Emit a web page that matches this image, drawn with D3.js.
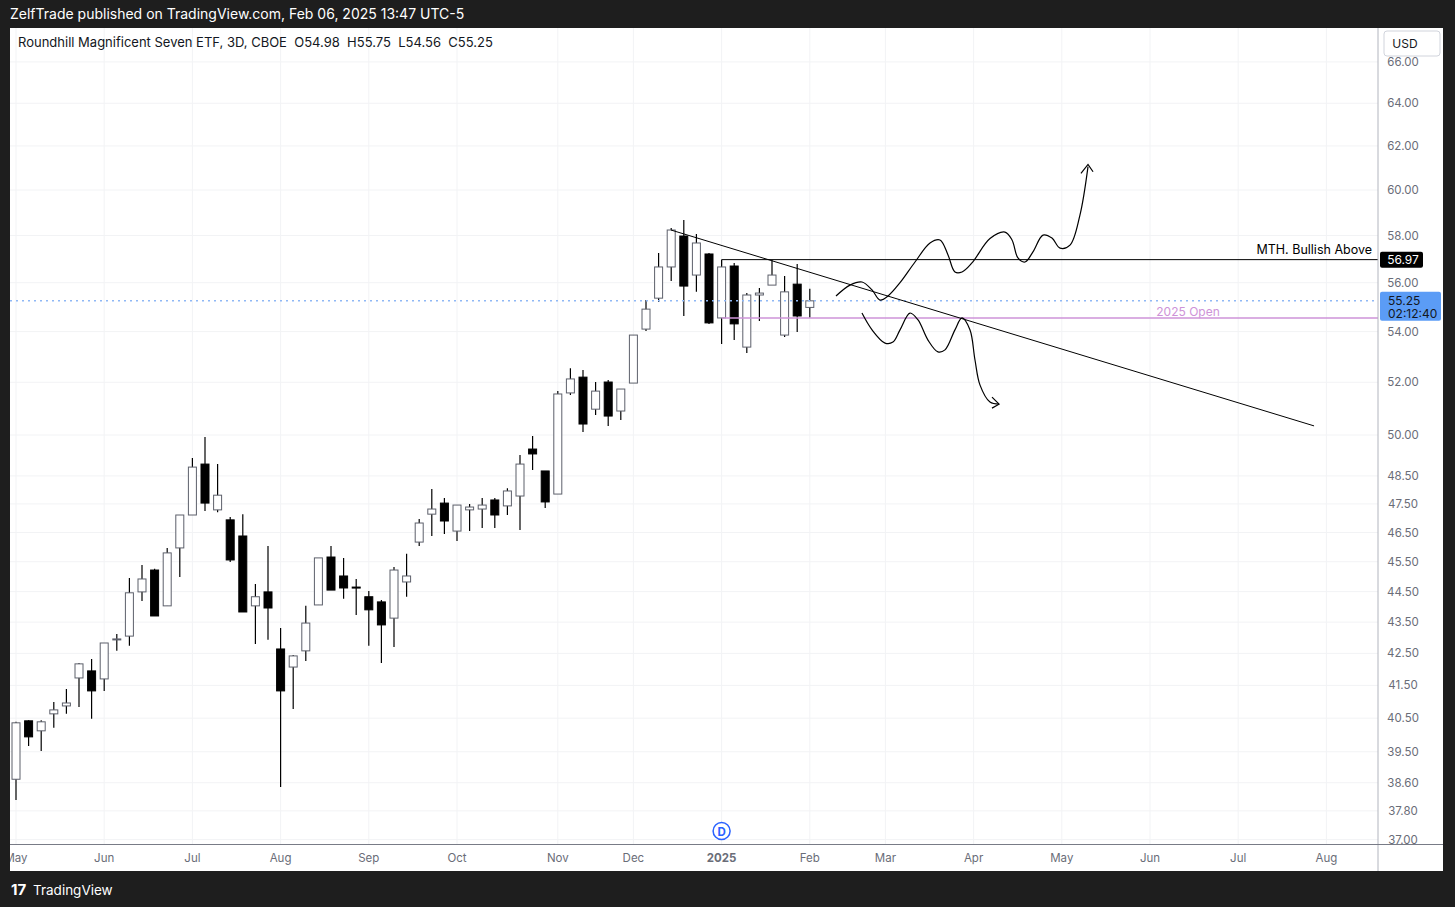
<!DOCTYPE html>
<html>
<head>
<meta charset="utf-8">
<script src="https://cdn.jsdelivr.net/npm/d3@7"></script>
<style>
  body { margin: 0; background: #1e1e1e; font-family: Inter, "Noto Sans", sans-serif; }
  svg text { font-family: Inter, "Noto Sans", sans-serif; white-space: pre; }
</style>
</head>
<body>
<svg width="1455" height="907"></svg>
<script>
// OHLC of each 3D bar, oldest first
var opens  = [38.70,40.42,40.12,40.63,40.87,41.73,41.95,41.70,42.93,43.05,44.49,45.22,44.03,45.97,47.11,48.93,47.29,46.94,46.38,44.03,44.49,42.64,42.07,42.58,44.06,45.66,45.02,44.65,44.33,44.16,43.63,44.82,46.17,47.14,47.53,46.55,47.29,47.32,47.64,47.43,47.78,49.48,48.68,47.85,51.59,52.20,50.97,52.01,50.90,51.97,54.10,55.36,56.66,57.98,56.32,57.21,54.55,56.70,53.38,55.49,55.90,53.86,55.94,54.98];
var highs  = [40.39,40.44,40.44,40.99,41.39,42.20,42.32,42.83,43.12,44.95,45.39,45.26,45.97,47.11,49.15,49.93,48.93,47.04,47.14,44.75,46.04,43.31,42.45,44.03,45.63,46.04,45.63,44.92,44.52,44.22,45.32,45.77,46.97,48.03,47.71,47.46,47.50,47.71,47.71,48.06,49.26,49.96,48.68,51.66,52.55,52.48,52.01,52.09,51.74,53.86,55.28,57.25,58.33,58.67,58.07,57.25,56.95,56.83,55.57,55.78,56.95,56.28,56.78,55.75];
var lows   = [38.11,39.67,39.52,40.21,40.63,40.84,40.48,41.33,42.58,42.74,44.19,43.70,44.03,44.99,47.11,47.25,47.21,45.49,43.83,42.80,42.93,38.48,40.78,42.26,44.06,44.55,44.26,43.73,42.74,42.20,42.70,44.33,46.04,46.38,46.45,46.21,46.55,46.66,46.66,47.11,46.59,48.71,47.36,47.85,51.51,50.11,50.75,50.34,50.56,51.97,54.02,55.20,56.07,54.63,55.62,54.31,53.50,53.66,53.15,54.43,55.90,53.78,53.98,54.56];
var closes = [40.36,39.94,40.39,40.75,40.96,42.17,41.33,42.83,42.96,44.46,44.92,43.70,45.80,47.11,48.82,47.53,47.81,45.56,43.83,44.33,43.96,41.33,42.42,43.47,45.63,44.55,44.62,44.62,43.90,43.41,45.22,45.02,46.83,47.32,46.90,47.46,47.39,47.46,47.11,47.96,48.93,49.30,47.57,51.55,52.13,50.41,51.66,50.71,51.74,53.86,54.91,56.66,58.24,55.86,57.68,54.35,56.66,54.31,55.49,55.57,56.32,55.62,54.63,55.25];

// price axis ticks
var priceTicks = [37.00,37.80,38.60,39.50,40.50,41.50,42.50,43.50,44.50,45.50,46.50,47.50,48.50,50.00,52.00,54.00,56.00,58.00,60.00,62.00,64.00,66.00];
// month labels and the bar index where each falls
var monthLabels = ["May","Jun","Jul","Aug","Sep","Oct","Nov","Dec","2025","Feb","Mar","Apr","May","Jun","Jul","Aug"];
var monthIdx    = [0,7,14,21,28,35,43,49,56,63,69,76,83,90,97,104];

// drawings: [bar index, price]
var trendLine   = [[51.98,58.24],[103.02,50.34]];
var bullLevel   = 56.97;
var openLevel   = 54.55;
var lastPrice   = 55.25;
var bullPath = [[65.08,55.45],[66.19,55.90],[67.14,56.03],[67.94,55.70],[68.57,55.28],[69.21,55.45],[70.16,56.00],[71.35,56.87],[72.54,57.68],[73.33,57.81],[73.97,57.17],[74.52,56.45],[75.08,56.45],[75.87,56.83],[77.30,57.87],[78.49,58.15],[79.05,57.81],[79.52,57.04],[80.08,56.87],[80.71,57.30],[81.51,58.02],[82.22,57.89],[82.86,57.46],[83.65,57.59],[84.44,58.89],[85.08,61.05]];
var bullHead = [[84.52,60.75],[85.08,61.15],[85.48,60.82]];
var bearPath = [[67.14,54.75],[67.94,54.07],[68.97,53.54],[69.60,53.58],[70.16,54.07],[70.95,54.75],[71.59,54.47],[72.38,53.66],[73.17,53.19],[73.73,53.27],[74.52,54.07],[75.08,54.55],[75.71,54.07],[76.11,52.87],[76.51,51.89],[77.30,51.24],[78.02,51.16]];
var bearHead = [[77.46,51.43],[78.02,51.16],[77.46,51.01]];

var svg = d3.select("svg");
var L = 10, R = 1378, T = 28, B = 844;

var x = d3.scaleLinear().domain([0, 1]).range([16, 28.6]);
var y = d3.scaleLog().domain([50, 60]).range([435, 190]);

// frame
svg.append("rect").attr("x", 10).attr("y", 28).attr("width", 1433).attr("height", 843).attr("fill", "#fff");
svg.append("text").attr("x", 10).attr("y", 19).attr("fill", "#fff").attr("font-size", 14)
  .text("ZelfTrade published on TradingView.com, Feb 06, 2025 13:47 UTC-5");

// grid
svg.selectAll(".hg").data(priceTicks).enter().append("line")
  .attr("x1", L).attr("x2", R).attr("y1", function(d){ return y(d); }).attr("y2", function(d){ return y(d); })
  .attr("stroke", "#f2f3f5");
svg.selectAll(".vg").data(monthIdx).enter().append("line")
  .attr("x1", function(d){ return x(d); }).attr("x2", function(d){ return x(d); }).attr("y1", T).attr("y2", B)
  .attr("stroke", "#f2f3f5");

var plot = svg.append("g");
svg.append("clipPath").attr("id", "clip").append("rect").attr("x", L).attr("y", T).attr("width", R - L).attr("height", B - T);
plot.attr("clip-path", "url(#clip)");

// candles
var bars = d3.range(closes.length);
plot.selectAll(".wick").data(bars).enter().append("line")
  .attr("x1", function(i){ return x(i); }).attr("x2", function(i){ return x(i); })
  .attr("y1", function(i){ return y(highs[i]); }).attr("y2", function(i){ return y(lows[i]); })
  .attr("stroke", "#000").attr("stroke-width", 1.2);
plot.selectAll(".body").data(bars).enter().append("rect")
  .attr("x", function(i){ return x(i) - 4; }).attr("width", 8)
  .attr("y", function(i){ return y(Math.max(opens[i], closes[i])); })
  .attr("height", function(i){ return Math.max(1, y(Math.min(opens[i], closes[i])) - y(Math.max(opens[i], closes[i]))); })
  .attr("fill", function(i){ return closes[i] >= opens[i] ? "#fff" : "#000"; })
  .attr("stroke", function(i){ return closes[i] >= opens[i] ? "#5d606b" : "#000"; })
  .attr("stroke-width", 1);

// levels
plot.append("line").attr("x1", L).attr("x2", R).attr("y1", y(lastPrice)).attr("y2", y(lastPrice))
  .attr("stroke", "#8fb8f5").attr("stroke-width", 1.5).attr("stroke-dasharray", "2,4");
plot.append("line").attr("x1", x(56)).attr("x2", R).attr("y1", y(openLevel)).attr("y2", y(openLevel))
  .attr("stroke", "#ce93d8").attr("stroke-width", 1.5);
plot.append("text").attr("x", 1188).attr("y", y(openLevel) - 2).attr("text-anchor", "middle")
  .attr("fill", "#ce93d8").attr("font-size", 12).text("2025 Open");
plot.append("line").attr("x1", x(56)).attr("x2", R).attr("y1", y(bullLevel)).attr("y2", y(bullLevel))
  .attr("stroke", "#000").attr("stroke-width", 1);
plot.append("line").attr("x1", x(56)).attr("x2", x(56)).attr("y1", y(bullLevel)).attr("y2", y(bullLevel) + 6)
  .attr("stroke", "#000").attr("stroke-width", 1);
plot.append("text").attr("x", 1372).attr("y", y(bullLevel) - 6).attr("text-anchor", "end")
  .attr("fill", "#000").attr("font-size", 12.5).text("MTH. Bullish Above");

var line = d3.line().x(function(d){ return x(d[0]); }).y(function(d){ return y(d[1]); });
var curve = d3.line().curve(d3.curveCatmullRom).x(function(d){ return x(d[0]); }).y(function(d){ return y(d[1]); });
plot.append("path").attr("d", line(trendLine)).attr("stroke", "#000").attr("fill", "none");
[bullPath, bearPath].forEach(function(p){
  plot.append("path").attr("d", curve(p)).attr("stroke", "#000").attr("fill", "none").attr("stroke-width", 1.2);
});
[bullHead, bearHead].forEach(function(p){
  plot.append("path").attr("d", line(p)).attr("stroke", "#000").attr("fill", "none").attr("stroke-width", 1.2);
});

// legend
svg.append("text").attr("x", 18).attr("y", 47).attr("fill", "#131722").attr("font-size", 13)
  .text("Roundhill Magnificent Seven ETF, 3D, CBOE  O54.98  H55.75  L54.56  C55.25");

// axes borders
svg.append("line").attr("x1", R).attr("x2", R).attr("y1", T).attr("y2", 871).attr("stroke", "#b2b5be");
svg.append("line").attr("x1", L).attr("x2", 1443).attr("y1", B + 0.5).attr("y2", B + 0.5).attr("stroke", "#787b86");

// price labels
svg.selectAll(".pt").data(priceTicks).enter().append("text")
  .attr("x", 1403).attr("y", function(d){ return y(d) + 4; }).attr("text-anchor", "middle")
  .attr("fill", "#6a6d78").attr("font-size", 11.5).text(function(d){ return d.toFixed(2); });
svg.append("rect").attr("x", 1379).attr("y", 28).attr("width", 64).attr("height", 29).attr("fill", "#fff");
svg.append("rect").attr("x", 1384).attr("y", 31).attr("width", 56).attr("height", 25).attr("rx", 3)
  .attr("fill", "#fff").attr("stroke", "#d1d4dc");
svg.append("text").attr("x", 1405).attr("y", 48).attr("text-anchor", "middle").attr("font-size", 12).attr("fill", "#131722").text("USD");

svg.append("rect").attr("x", 1380).attr("y", y(bullLevel) - 8).attr("width", 43).attr("height", 16).attr("rx", 2).attr("fill", "#000");
svg.append("text").attr("x", 1403).attr("y", y(bullLevel) + 4.5).attr("text-anchor", "middle").attr("fill", "#fff").attr("font-size", 12).text(bullLevel.toFixed(2));
svg.append("rect").attr("x", 1380).attr("y", y(lastPrice) - 9).attr("width", 61).attr("height", 29).attr("rx", 2).attr("fill", "#5b9cf6");
svg.append("text").attr("x", 1388).attr("y", y(lastPrice) + 4).attr("fill", "#131722").attr("font-size", 12).text(lastPrice.toFixed(2));
svg.append("text").attr("x", 1388).attr("y", y(lastPrice) + 17).attr("fill", "#131722").attr("font-size", 12).text("02:12:40");

// month labels
svg.selectAll(".mt").data(monthIdx).enter().append("text")
  .attr("x", function(d){ return x(d); }).attr("y", 862).attr("text-anchor", "middle")
  .attr("fill", "#6a6d78").attr("font-size", 11.5).attr("font-weight", function(d, i){ return monthLabels[i] === "2025" ? "bold" : "normal"; })
  .text(function(d, i){ return monthLabels[i]; });
svg.append("rect").attr("x", 0).attr("y", 845).attr("width", 10).attr("height", 30).attr("fill", "#1e1e1e");

// dividend marker
svg.append("circle").attr("cx", x(56)).attr("cy", 831).attr("r", 8.5).attr("fill", "#fff").attr("stroke", "#2962ff").attr("stroke-width", 1.5);
svg.append("text").attr("x", x(56)).attr("y", 835.5).attr("text-anchor", "middle").attr("fill", "#2962ff").attr("font-size", 11.5).attr("font-weight", "bold").text("D");

// footer
svg.append("text").attr("x", 11).attr("y", 895).attr("fill", "#fff").attr("font-size", 15).attr("font-weight", "bold").text("17");
svg.append("text").attr("x", 33).attr("y", 895).attr("fill", "#fff").attr("font-size", 13.5).text("TradingView");
</script>
</body>
</html>
